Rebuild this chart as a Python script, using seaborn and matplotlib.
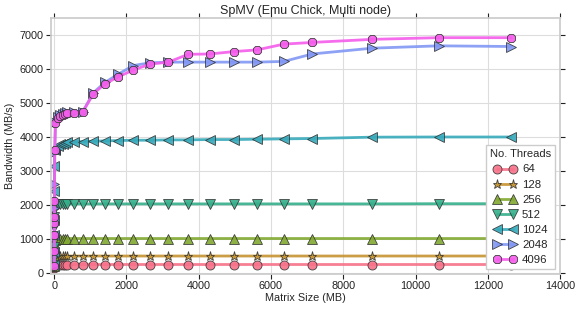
import numpy as np
import pandas as pd
import matplotlib
matplotlib.use("Agg")
import matplotlib.pyplot as plt
import seaborn as sns

# === Data ===
matrix_mb = [0.25, 1, 2.25, 4, 6.25, 9, 16, 36, 100, 175, 240, 290, 360, 540, 790,
             1085, 1405, 1780, 2195, 2655, 3160, 3710, 4310, 4970, 5610, 6355,
             7140, 8790, 10640, 12650]

bw_64 = [140, 165, 185, 200, 210, 220, 228, 235, 238, 240, 240, 240, 240, 240, 240,
         240, 240, 240, 240, 240, 240, 240, 240, 240, 240, 240, 240, 240, 240, 240]
bw_128 = [180, 260, 330, 390, 430, 460, 475, 485, 490, 490, 490, 490, 490, 490, 490,
          490, 490, 490, 490, 490, 490, 490, 490, 490, 490, 490, 490, 490, 490, 490]
bw_256 = [200, 350, 500, 650, 780, 880, 950, 990, 1000, 1005, 1005, 1005, 1005, 1005, 1005,
          1005, 1005, 1005, 1005, 1005, 1005, 1005, 1005, 1005, 1005, 1005, 1005, 1005, 1005, 1005]
bw_512 = [220, 450, 750, 1050, 1350, 1650, 1900, 1990, 2010, 2015, 2020, 2020, 2020, 2025, 2025,
          2025, 2025, 2025, 2025, 2025, 2025, 2025, 2025, 2025, 2025, 2025, 2025, 2025, 2030, 2030]
bw_1024 = [230, 600, 1100, 1550, 2400, 3150, 3600, 3650, 3730, 3780, 3800, 3820, 3840, 3850, 3860,
           3870, 3880, 3890, 3900, 3900, 3910, 3910, 3920, 3920, 3930, 3940, 3950, 3990, 3995, 3995]
bw_2048 = [220, 600, 1050, 1500, 1900, 2600, 3550, 4430, 4570, 4630, 4670, 4700, 4720, 4730, 4740,
           5300, 5600, 5850, 6100, 6180, 6200, 6200, 6200, 6200, 6200, 6220, 6440, 6610, 6680, 6660]
bw_4096 = [200, 650, 1100, 1450, 1650, 2100, 3620, 4420, 4550, 4610, 4650, 4680, 4700, 4710, 4730,
           5270, 5560, 5770, 5970, 6140, 6200, 6430, 6440, 6510, 6560, 6730, 6780, 6870, 6920, 6920]

threads = ["64", "128", "256", "512", "1024", "2048", "4096"]
series = [bw_64, bw_128, bw_256, bw_512, bw_1024, bw_2048, bw_4096]
markers = ["o", "*", "^", "v", "<", ">", "8"]

df = pd.concat(
    [pd.DataFrame({"size": matrix_mb, "bw": s, "threads": t}) for t, s in zip(threads, series)],
    ignore_index=True,
)

# === Plot ===
sns.set_theme(style="whitegrid", rc={
    "xtick.bottom": True, "xtick.top": True, "ytick.left": True, "ytick.right": True,
    "xtick.direction": "out", "ytick.direction": "out",
    "xtick.major.size": 3.5, "ytick.major.size": 3.5,
    "xtick.major.width": 0.8, "ytick.major.width": 0.8,
    "xtick.color": "#222222", "ytick.color": "#222222",
    "axes.edgecolor": "#cccccc",
})
plt.rcParams["font.family"] = ["Liberation Sans", "DejaVu Sans"]

fig = plt.figure(figsize=(5.81, 3.10), dpi=100)
ax = fig.add_axes([0.087, 0.115, 0.877, 0.827])

palette = sns.color_palette("husl", len(threads))
sns.lineplot(
    data=df, x="size", y="bw", hue="threads", style="threads",
    hue_order=threads, style_order=threads, palette=palette,
    markers=markers, dashes=False, estimator=None, sort=False,
    linewidth=2, markersize=6.5, markeredgecolor="#333333", markeredgewidth=0.6,
    ax=ax,
)
for line in ax.get_lines():
    line.set_alpha(0.9)

ax.set_xlim(-100, 14000)
ax.set_ylim(-50, 7500)
ax.set_xticks(np.arange(0, 14001, 2000))
ax.set_yticks(np.arange(0, 7001, 1000))
ax.tick_params(axis="both", labelsize=7.8, pad=1.5)
ax.grid(color="#dddddd", linewidth=0.8)
ax.set_title("SpMV (Emu Chick, Multi node)", fontsize=9, pad=3)
ax.set_xlabel("Matrix Size (MB)", fontsize=7.8, labelpad=1)
ax.set_ylabel("Bandwidth (MB/s)", fontsize=7.8, labelpad=3)

handles, labels = ax.get_legend_handles_labels()
leg = ax.legend(handles, labels, title="No. Threads", loc="lower right",
                numpoints=2, fontsize=8.2, title_fontsize=8, frameon=True,
                borderpad=0.35, labelspacing=0.45, handlelength=2.0,
                handletextpad=0.5, borderaxespad=0.45, fancybox=False)
leg.get_frame().set_edgecolor("#cccccc")
leg.get_frame().set_facecolor("white")
leg.get_frame().set_alpha(1.0)

fig.savefig("out.png", dpi=100)
